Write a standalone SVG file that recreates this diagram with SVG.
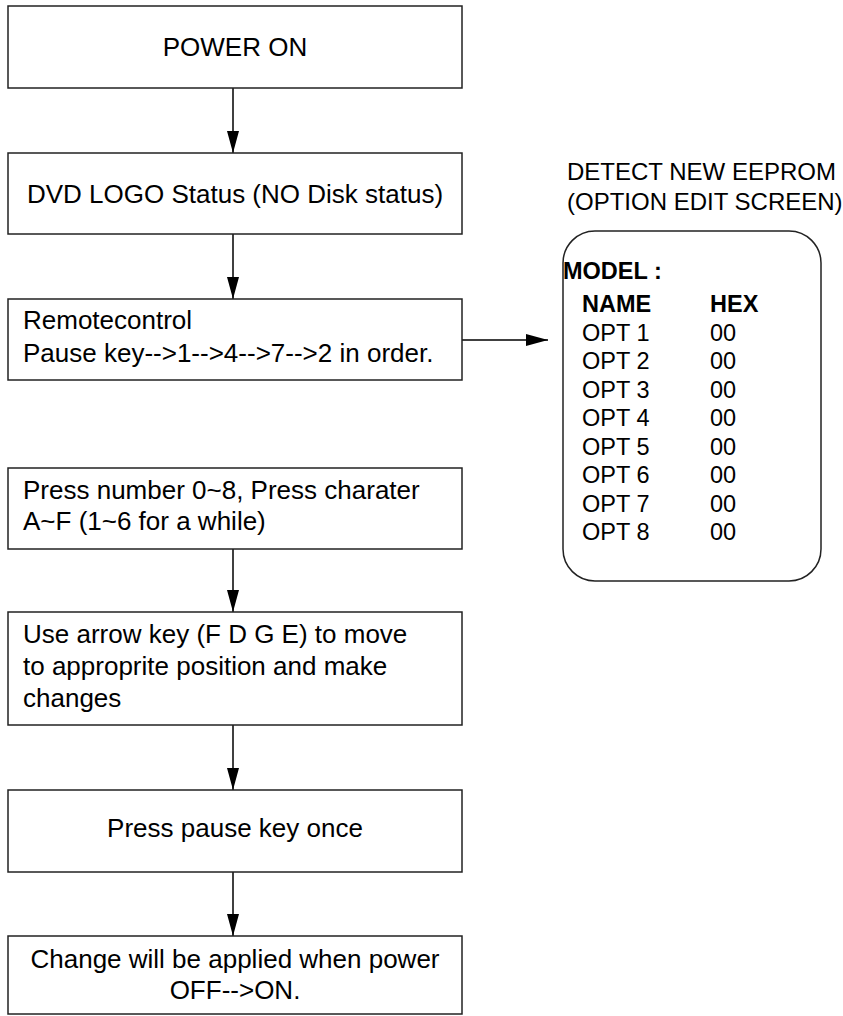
<svg xmlns="http://www.w3.org/2000/svg" width="843" height="1016" viewBox="0 0 843 1016">
<defs>
<style>
.box{fill:#fff;stroke:#222;stroke-width:1.5}
.t{font-family:"Liberation Sans",Arial,sans-serif;font-size:26px;fill:#000}
.s{font-size:23.5px}
.h{font-size:24px}
.c{text-anchor:middle}
.b{font-weight:bold}
.conn{stroke:#000;stroke-width:1.5;fill:none}
</style>
<marker id="ah" markerWidth="22" markerHeight="12" refX="22" refY="6" orient="auto" markerUnits="userSpaceOnUse" viewBox="0 0 22 12">
<path d="M0,0 L22,6 L0,12 Z" fill="#000"/>
</marker>
</defs>
<rect width="843" height="1016" fill="#fff"/>
<g id="connectors">
<line class="conn" x1="233" y1="88" x2="233" y2="153" marker-end="url(#ah)"/>
<line class="conn" x1="233" y1="234" x2="233" y2="299" marker-end="url(#ah)"/>
<line class="conn" x1="462" y1="340" x2="548" y2="340" marker-end="url(#ah)"/>
<line class="conn" x1="233" y1="549" x2="233" y2="612" marker-end="url(#ah)"/>
<line class="conn" x1="233" y1="725" x2="233" y2="790" marker-end="url(#ah)"/>
<line class="conn" x1="233" y1="872" x2="233" y2="936" marker-end="url(#ah)"/>
</g>
<g id="n1"><rect class="box" x="8" y="6" width="454" height="82"/><text class="t c" x="235" y="56">POWER ON</text></g>
<g id="n2"><rect class="box" x="8" y="153" width="454" height="81"/><text class="t c" x="235" y="203">DVD LOGO Status (NO Disk status)</text></g>
<g id="n3"><rect class="box" x="8" y="299" width="454" height="81"/><text class="t" x="23" y="329">Remotecontrol</text><text class="t" x="23" y="362">Pause key--&gt;1--&gt;4--&gt;7--&gt;2 in order.</text></g>
<g id="n4"><rect class="box" x="8" y="468" width="454" height="81"/><text class="t" x="23" y="499">Press number 0~8, Press charater</text><text class="t" x="23" y="530">A~F (1~6 for a while)</text></g>
<g id="n5"><rect class="box" x="8" y="612" width="454" height="113"/><text class="t" x="23" y="643">Use arrow key (F D G E) to move</text><text class="t" x="23" y="675">to approprite position and make</text><text class="t" x="23" y="707">changes</text></g>
<g id="n6"><rect class="box" x="8" y="790" width="454" height="82"/><text class="t c" x="235" y="837">Press pause key once</text></g>
<g id="n7"><rect class="box" x="8" y="936" width="454" height="78"/><text class="t c" x="235" y="968">Change will be applied when power</text><text class="t c" x="235" y="999">OFF--&gt;ON.</text></g>
<g id="screen">
<text class="t h" x="567" y="180">DETECT NEW EEPROM</text>
<text class="t h" x="567" y="210">(OPTION EDIT SCREEN)</text>
<rect class="box" x="563" y="231" width="258" height="350" rx="32" ry="32"/>
<text class="t s b" x="563" y="279">MODEL :</text>
<text class="t s b" x="582" y="312">NAME</text><text class="t s b" x="710" y="312">HEX</text>
<text class="t s" x="582" y="341">OPT 1</text><text class="t s" x="710" y="341">00</text>
<text class="t s" x="582" y="369">OPT 2</text><text class="t s" x="710" y="369">00</text>
<text class="t s" x="582" y="398">OPT 3</text><text class="t s" x="710" y="398">00</text>
<text class="t s" x="582" y="426">OPT 4</text><text class="t s" x="710" y="426">00</text>
<text class="t s" x="582" y="455">OPT 5</text><text class="t s" x="710" y="455">00</text>
<text class="t s" x="582" y="483">OPT 6</text><text class="t s" x="710" y="483">00</text>
<text class="t s" x="582" y="512">OPT 7</text><text class="t s" x="710" y="512">00</text>
<text class="t s" x="582" y="540">OPT 8</text><text class="t s" x="710" y="540">00</text>
</g>
</svg>
